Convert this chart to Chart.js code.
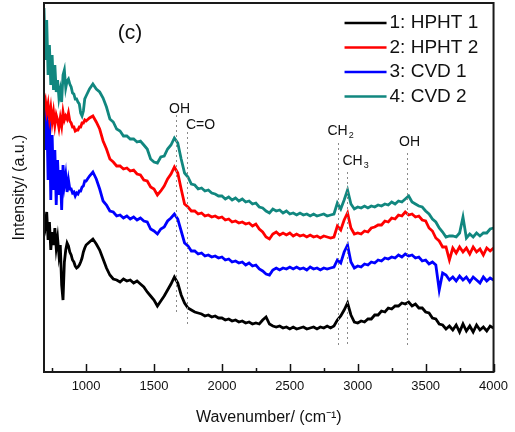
<!DOCTYPE html>
<html>
<head>
<meta charset="utf-8">
<script src="https://cdn.jsdelivr.net/npm/chart.js@4.4.1/dist/chart.umd.min.js"></script>
<style>
  html, body { margin: 0; padding: 0; background: #fff; }
</style>
</head>
<body>
<canvas id="chart" width="515" height="432"></canvas>
<script>
// Raman/FTIR spectra, panel (c) (arbitrary units)

const wavenumbers = [
  690, 700, 710, 720, 730, 740, 750, 760, 770, 780, 790, 800, 810, 820, 830, 840,
  850, 860, 870, 880, 890, 900, 910, 920, 930, 940, 950, 960, 970, 980, 990, 1000,
  1025, 1050, 1075, 1100, 1125, 1150, 1175, 1200, 1225, 1250, 1275, 1300,
  1325, 1350, 1375, 1400, 1425, 1450, 1475, 1500, 1525, 1550, 1575, 1600,
  1625, 1650, 1675, 1700, 1725, 1750, 1775, 1800, 1825, 1850, 1875, 1900,
  1925, 1950, 1975, 2000, 2025, 2050, 2075, 2100, 2125, 2150, 2175, 2200,
  2225, 2250, 2275, 2300, 2325, 2350, 2375, 2400, 2425, 2450, 2475, 2500,
  2525, 2550, 2575, 2600, 2625, 2650, 2675, 2700, 2725, 2750, 2775, 2800,
  2825, 2850, 2875, 2900, 2925, 2950, 2975, 3000, 3025, 3050, 3075, 3100,
  3125, 3150, 3175, 3200, 3225, 3250, 3275, 3300, 3325, 3350, 3375, 3400,
  3425, 3450, 3475, 3500, 3525, 3550, 3575, 3600, 3625, 3650, 3675, 3700,
  3725, 3750, 3775, 3800, 3825, 3850, 3875, 3900, 3925, 3950, 3975, 4000
];

const hpht1 = [
  157, 147, 160, 132, 150, 122, 140, 127, 144, 124, 134, 117, 127, 87, 72, 110,
  122, 129, 126, 120, 117, 112, 110, 106, 104, 105, 107, 110, 114, 120, 124, 127,
  130, 133, 128, 122, 113, 104, 97, 93, 92, 90, 93, 91,
  92, 89, 91, 88, 85, 80, 76, 72, 66, 71, 76, 82,
  88, 95, 89, 77, 69, 64, 62, 60, 59, 58, 56, 57,
  55, 56, 54, 54, 52, 53, 51, 52, 50, 51, 49, 50,
  48, 49, 48, 52, 55, 48, 46, 45, 46, 44, 45, 43,
  45, 43, 44, 45, 43, 44, 45, 43, 45, 44, 46, 44,
  46, 52, 56, 62, 69, 57, 50, 49, 51, 50, 53, 53,
  57, 57, 61, 60, 64, 63, 66, 66, 69, 68, 70, 66,
  68, 64, 64, 60, 59, 54, 53, 48, 47, 43, 46, 42,
  47, 40, 48, 41, 46, 40, 47, 42, 45, 41, 46, 44
];

const hpht2 = [
  267, 272, 260, 268, 254, 264, 250, 260, 247, 257, 252, 244, 254, 246, 260, 252,
  256, 253, 259, 251, 249, 245, 245, 241, 242, 242, 245, 245, 249, 249, 252, 251,
  254, 256, 250, 243, 231, 223, 213, 210, 206, 206, 203, 204,
  201, 202, 198, 197, 192, 191, 185, 183, 177, 181, 186, 193,
  198, 205, 199, 183, 168, 165, 161, 161, 158, 159, 156, 157,
  155, 156, 154, 155, 152, 153, 150, 151, 149, 150, 148, 149,
  146, 148, 143, 140, 135, 133, 138, 140, 137, 139, 137, 139,
  136, 138, 136, 137, 135, 137, 135, 136, 134, 136, 135, 134,
  135, 146, 142, 152, 159, 144, 138, 139, 138, 141, 140, 144,
  145, 147, 147, 151, 150, 154, 153, 157, 156, 160, 157, 158,
  155, 156, 152, 151, 144, 141, 134, 131, 125, 125, 112, 124,
  119, 125, 120, 124, 118, 125, 120, 123, 117, 124, 121, 124
];

const cvd1 = [
  272, 222, 267, 192, 252, 172, 237, 182, 222, 167, 212, 177, 202, 162, 207, 187,
  197, 180, 192, 183, 183, 179, 180, 176, 179, 178, 181, 181, 185, 186, 191, 191,
  196, 200, 193, 183, 171, 167, 161, 160, 156, 157, 154, 156,
  153, 155, 152, 154, 151, 150, 143, 141, 138, 143, 145, 151,
  154, 158, 153, 141, 129, 126, 121, 121, 118, 119, 116, 117,
  115, 116, 114, 115, 112, 113, 110, 111, 109, 110, 107, 109,
  106, 107, 103, 101, 98, 97, 102, 104, 102, 104, 103, 105,
  103, 105, 103, 104, 102, 105, 103, 104, 102, 104, 103, 104,
  105, 112, 109, 120, 127, 110, 104, 106, 105, 108, 107, 110,
  109, 112, 111, 114, 113, 115, 114, 117, 115, 118, 116, 117,
  114, 115, 111, 112, 108, 110, 107, 82, 99, 97, 92, 95,
  91, 96, 92, 95, 90, 95, 92, 89, 95, 91, 94, 92
];

const cvd2 = [
  364, 312, 352, 297, 327, 287, 317, 282, 307, 280, 292, 274, 282, 270, 297, 302,
  284, 291, 293, 288, 285, 279, 278, 273, 273, 270, 268, 259, 256, 261, 273, 276,
  283, 288, 283, 280, 274, 265, 253, 250, 243, 241, 236, 236,
  233, 233, 230, 231, 227, 223, 213, 210, 209, 215, 216, 223,
  227, 234, 229, 213, 199, 195, 188, 187, 183, 184, 181, 182,
  179, 178, 176, 176, 173, 175, 172, 174, 171, 173, 170, 171,
  168, 169, 165, 164, 161, 159, 163, 161, 162, 159, 161, 158,
  159, 157, 159, 157, 158, 156, 158, 156, 157, 158, 156, 157,
  158, 169, 163, 172, 182, 168, 163, 165, 164, 166, 164, 166,
  165, 167, 166, 168, 167, 170, 168, 171, 170, 173, 176, 170,
  168, 166, 165, 161, 158, 153, 150, 144, 140, 135, 136, 136,
  135, 139, 155, 134, 138, 135, 139, 136, 139, 139, 143, 144
];

const seriesNames  = ['1: HPHT 1', '2: HPHT 2', '3: CVD 1', '4: CVD 2'];
const seriesColors = ['#000000', '#ff0000', '#0000ff', '#11877f'];
const seriesValues = [hpht1, hpht2, cvd1, cvd2];

// x axis ticks (labelled every 500)
const xTickValues = [750, 1000, 1250, 1500, 1750, 2000, 2250, 2500, 2750, 3000, 3250, 3500, 3750, 4000];

// band assignments (cm-1)
const bandLabels = ['OH', 'C=O', 'CH2', 'CH3', 'OH'];
const bandPositions = [1660, 1740, 2855, 2920, 3360];

const FONT = 'Arial, "Liberation Sans", sans-serif';

// dotted marker line extents (intensity units) and label placement per band
const bandDraw = [
  { top: 257, bottom: 59, dx: 3,   ly: 263, align: 'center' },
  { top: 240, bottom: 45, dx: 13,  ly: 247, align: 'center' },
  { top: 229, bottom: 27, dx: -11, ly: 241, align: 'left' },
  { top: 200, bottom: 27, dx: -5,  ly: 211, align: 'left' },
  { top: 219, bottom: 27, dx: 2,   ly: 230, align: 'center' }
];

const decor = {
  id: 'decor',
  afterDatasetsDraw(chart) {
    const { ctx, chartArea: a, scales: { x, y } } = chart;
    ctx.save();

    // dotted band markers + labels
    bandPositions.forEach((wn, i) => {
      const d = bandDraw[i];
      const px = Math.round(x.getPixelForValue(wn)) + 0.5;
      ctx.strokeStyle = '#8a8a8a';
      ctx.lineWidth = 1;
      ctx.setLineDash([2, 3]);
      ctx.beginPath();
      ctx.moveTo(px, y.getPixelForValue(d.top));
      ctx.lineTo(px, y.getPixelForValue(d.bottom));
      ctx.stroke();
      ctx.setLineDash([]);

      ctx.fillStyle = '#111';
      ctx.textBaseline = 'middle';
      ctx.font = '14px ' + FONT;
      const ly = y.getPixelForValue(d.ly);
      const lab = bandLabels[i];
      const m = lab.match(/^CH(\d)$/);
      if (m) {
        ctx.textAlign = 'left';
        ctx.fillText('CH', px + d.dx, ly);
        const w = ctx.measureText('CH').width;
        ctx.font = '9px ' + FONT;
        ctx.fillText(m[1], px + d.dx + w + 1, ly + 5);
      } else {
        ctx.textAlign = d.align;
        ctx.fillText(lab, px + d.dx, ly);
      }
    });

    // inward ticks on the bottom axis
    ctx.strokeStyle = '#111';
    ctx.lineWidth = 1.5;
    x.ticks.forEach(t => {
      const px = Math.round(x.getPixelForValue(t.value)) + 0.5;
      const len = t.value % 500 === 0 ? 8 : 4;
      ctx.beginPath();
      ctx.moveTo(px, a.bottom);
      ctx.lineTo(px, a.bottom - len);
      ctx.stroke();
    });

    // frame
    ctx.lineWidth = 2;
    ctx.strokeStyle = '#1a1a1a';
    ctx.strokeRect(a.left, a.top, a.right - a.left, a.bottom - a.top);

    // legend (inside, top right)
    ctx.font = '19px ' + FONT;
    ctx.textAlign = 'left';
    ctx.textBaseline = 'middle';
    seriesNames.forEach((name, i) => {
      const ly = a.top + 20 + i * 24.5;
      ctx.strokeStyle = seriesColors[i];
      ctx.lineWidth = 2.5;
      ctx.beginPath();
      ctx.moveTo(a.right - 149, ly);
      ctx.lineTo(a.right - 107, ly);
      ctx.stroke();
      ctx.fillStyle = '#111';
      ctx.fillText(name, a.right - 104, ly);
    });

    // panel letter
    ctx.font = '21px ' + FONT;
    ctx.textAlign = 'center';
    ctx.fillText('(c)', 130, 33);

    ctx.restore();
  }
};

new Chart(document.getElementById('chart'), {
  type: 'line',
  data: {
    datasets: seriesValues.map((vals, i) => ({
      label: seriesNames[i],
      data: wavenumbers.map((w, j) => ({ x: w, y: vals[j] })),
      borderColor: seriesColors[i],
      borderWidth: 2.8,
      pointRadius: 0,
      tension: 0,
      fill: false
    }))
  },
  options: {
    responsive: false,
    animation: false,
    devicePixelRatio: 1,
    layout: { padding: { top: 3, right: 13, bottom: 5, left: 8 } },
    plugins: { legend: { display: false }, tooltip: { enabled: false } },
    scales: {
      x: {
        type: 'linear',
        min: 690,
        max: 4000,
        afterBuildTicks: s => { s.ticks = xTickValues.map(v => ({ value: v })); },
        afterFit: s => { s.height = 55; },
        grid: { display: false, drawTicks: false },
        border: { display: false },
        ticks: {
          autoSkip: false,
          maxRotation: 0,
          padding: 7,
          color: '#111',
          font: { size: 13, family: FONT },
          callback: v => (v % 500 === 0 ? String(v) : '')
        },
        title: {
          display: true,
          text: 'Wavenumber/ (cm⁻¹)',
          color: '#111',
          font: { size: 16, family: FONT },
          padding: { top: 4, bottom: 0 }
        }
      },
      y: {
        min: 0,
        max: 369,
        afterFit: s => { s.width = 36; },
        grid: { display: false, drawTicks: false },
        border: { display: false },
        ticks: { display: false },
        title: {
          display: true,
          text: 'Intensity/ (a.u.)',
          color: '#111',
          font: { size: 16, family: FONT },
          padding: { top: 2, bottom: 0 }
        }
      }
    }
  },
  plugins: [decor]
});
</script>
</body>
</html>
